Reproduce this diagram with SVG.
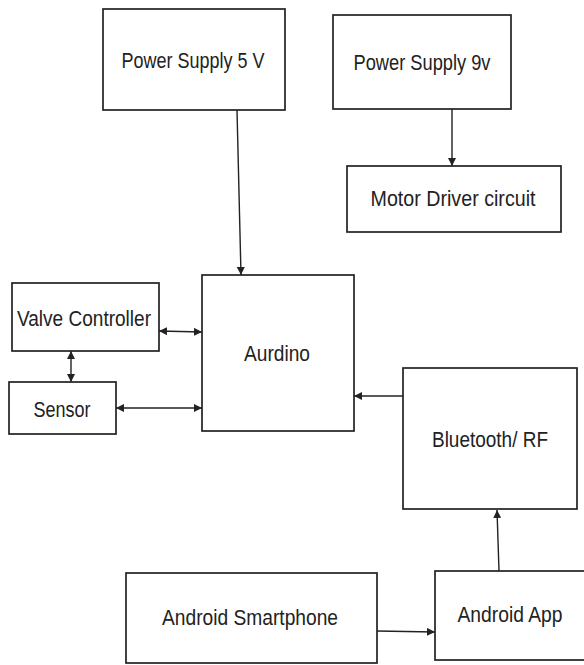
<svg xmlns="http://www.w3.org/2000/svg" width="584" height="665" viewBox="0 0 584 665">
<defs>
<style>
.box{fill:#fff;stroke:#222;stroke-width:1.7}
.lbl{font-family:"Liberation Sans",Arial,sans-serif;font-size:22px;fill:#222;text-anchor:middle}
.con{stroke:#222;stroke-width:1.4;fill:none}
</style>
<marker id="ah" viewBox="0 0 10 10" refX="10" refY="5" markerWidth="8" markerHeight="8" markerUnits="userSpaceOnUse" orient="auto-start-reverse">
<path d="M0,0 L10,5 L0,10 z" fill="#222"/>
</marker>
</defs>
<rect width="584" height="665" fill="#fff"/>
<g id="ps5v">
<rect class="box" x="103" y="9" width="182" height="101"/>
<text class="lbl" x="193" y="68" textLength="143" lengthAdjust="spacingAndGlyphs">Power Supply 5 V</text>
</g>
<g id="ps9v">
<rect class="box" x="333" y="15" width="178" height="94"/>
<text class="lbl" x="422" y="70" textLength="137" lengthAdjust="spacingAndGlyphs">Power Supply 9v</text>
</g>
<g id="motor">
<rect class="box" x="347" y="166" width="214" height="66"/>
<text class="lbl" x="453" y="206" textLength="165" lengthAdjust="spacingAndGlyphs">Motor Driver circuit</text>
</g>
<g id="aurdino">
<rect class="box" x="202" y="275" width="152" height="156"/>
<text class="lbl" x="277" y="361" textLength="66" lengthAdjust="spacingAndGlyphs">Aurdino</text>
</g>
<g id="valve">
<rect class="box" x="12" y="283" width="147" height="68"/>
<text class="lbl" x="84" y="326" textLength="134" lengthAdjust="spacingAndGlyphs">Valve Controller</text>
</g>
<g id="sensor">
<rect class="box" x="9" y="382" width="107" height="52"/>
<text class="lbl" x="62" y="417" textLength="57" lengthAdjust="spacingAndGlyphs">Sensor</text>
</g>
<g id="bluetooth">
<rect class="box" x="403" y="368" width="174" height="141"/>
<text class="lbl" x="490" y="447" textLength="116" lengthAdjust="spacingAndGlyphs">Bluetooth/ RF</text>
</g>
<g id="smartphone">
<rect class="box" x="126" y="573" width="251" height="90"/>
<text class="lbl" x="250" y="625" textLength="176" lengthAdjust="spacingAndGlyphs">Android Smartphone</text>
</g>
<g id="app">
<rect class="box" x="435" y="571" width="152" height="89"/>
<text class="lbl" x="510" y="622" textLength="105" lengthAdjust="spacingAndGlyphs">Android App</text>
</g>
<g id="connectors">
<line class="con" x1="237" y1="110" x2="241" y2="275" marker-end="url(#ah)"/>
<line class="con" x1="452" y1="109" x2="452" y2="166" marker-end="url(#ah)"/>
<line class="con" x1="159" y1="331" x2="202" y2="332" marker-start="url(#ah)" marker-end="url(#ah)"/>
<line class="con" x1="71" y1="351" x2="71" y2="382" marker-start="url(#ah)" marker-end="url(#ah)"/>
<line class="con" x1="116" y1="408" x2="202" y2="408" marker-start="url(#ah)" marker-end="url(#ah)"/>
<line class="con" x1="403" y1="396" x2="354" y2="396" marker-end="url(#ah)"/>
<line class="con" x1="499" y1="571" x2="497" y2="510" marker-end="url(#ah)"/>
<line class="con" x1="377" y1="631" x2="435" y2="632" marker-end="url(#ah)"/>
</g>
</svg>
